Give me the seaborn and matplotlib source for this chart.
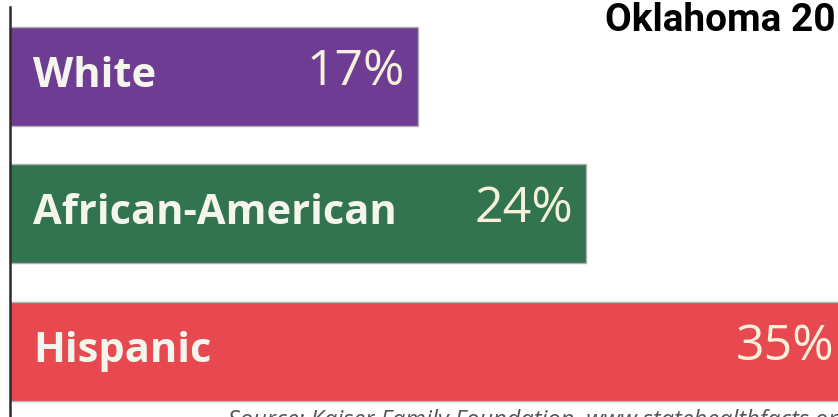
import matplotlib
matplotlib.use("Agg")
import matplotlib.pyplot as plt
import seaborn as sns
import pandas as pd

groups = ["White", "African-American", "Hispanic"]
rates = [17, 24, 35]
bar_colors = ["#6e3d93", "#327350", "#e8484f"]
title_text = "Oklahoma 2010"
source_text = "Source: Kaiser Family Foundation, www.statehealthfacts.org"

df = pd.DataFrame({"group": groups, "rate": rates})

sns.set_style("white")
plt.rcParams["font.family"] = ["Open Sans", "DejaVu Sans"]

fig = plt.figure(figsize=(8.38, 4.17), dpi=100)
ax = fig.add_axes([10 / 838, 0, 828 / 838, 410 / 417])

sns.barplot(data=df, y="group", x="rate", hue="group", palette=bar_colors,
            orient="h", width=0.72, edgecolor="#b0b0b0", linewidth=1,
            legend=False, ax=ax, saturation=1)

ax.set_xlim(0, 828 / 24)
ax.set_ylim(2.48, -0.502)
ax.set_xlabel("")
ax.set_ylabel("")
ax.set_xticks([])
ax.set_yticklabels([])
ax.tick_params(axis="y", direction="in", length=16, width=1,
               color=(0.1, 0.1, 0.1, 0.45), left=True, pad=0)
for side in ["top", "right", "bottom"]:
    ax.spines[side].set_visible(False)
ax.spines["left"].set_color("#2a2a2a")
ax.spines["left"].set_linewidth(1.8)
ax.spines["left"].set_zorder(5)

xmax = ax.get_xlim()[1]
for i, (g, r) in enumerate(zip(groups, rates)):
    ax.annotate(g, xy=(0, i), xytext=(23, 0), textcoords="offset pixels",
                ha="left", va="center", color="#f4f6ee", fontsize=30,
                fontweight="bold", zorder=6)
    ax.annotate(f"{r}%", xy=(min(r - 0.55, xmax - 0.15), i), xytext=(0, 4),
                textcoords="offset pixels", ha="right", va="center",
                color="#f6f1da", fontsize=36, fontweight="medium", zorder=6)

fig.text(605 / 838, 1 - 2 / 417, title_text, ha="left", va="top",
         fontsize=28, fontweight="bold", color="black",
         family=["Roboto", "DejaVu Sans"])
fig.text(228 / 838, 1 - 409 / 417, source_text, ha="left", va="top",
         fontsize=17, style="italic", color="#555555")

fig.savefig("out.png", dpi=100)
